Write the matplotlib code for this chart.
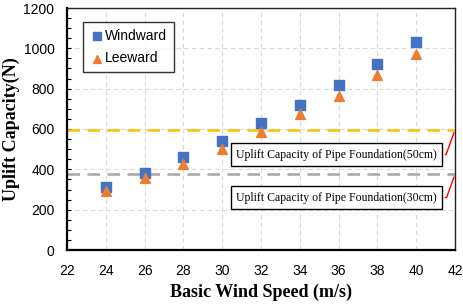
import matplotlib
matplotlib.use("Agg")
import matplotlib.pyplot as plt
from matplotlib.ticker import MultipleLocator

speeds = [24, 26, 28, 30, 32, 34, 36, 38, 40]
windward = [314, 383, 460, 540, 628, 719, 818, 920, 1030]
leeward = [291, 355, 426, 500, 587, 673, 765, 868, 972]
cap_50cm = 595
cap_30cm = 375
label_50 = "Uplift Capacity of Pipe Foundation(50cm)"
label_30 = "Uplift Capacity of Pipe Foundation(30cm)"

fig = plt.figure(figsize=(4.64, 3.05), dpi=100)
ax = fig.add_axes([67/464, 1-250/305, (455-67)/464, (250-8)/305])

ax.axhline(cap_50cm, color="#FFC000", lw=1.8, ls=(0, (5, 3)), zorder=2)
ax.axhline(cap_30cm, color="#A5A5A5", lw=1.8, ls=(0, (5, 3)), zorder=2)

ax.scatter(speeds, windward, marker="s", s=45, color="#4472C4", label="Windward", zorder=4)
ax.scatter(speeds, leeward, marker="^", s=50, color="#ED7D31", label="Leeward", zorder=4)

ax.set_xlim(22, 42)
ax.set_ylim(0, 1200)
ax.xaxis.set_major_locator(MultipleLocator(2))
ax.yaxis.set_major_locator(MultipleLocator(200))
ax.yaxis.set_minor_locator(MultipleLocator(50))
ax.grid(True, which="major", color="#D9D9D9", ls=(0, (4, 3)), lw=0.8)
ax.set_axisbelow(True)

ax.tick_params(axis="y", which="both", direction="in", length=3, width=0.8, labelsize=10, pad=9)
ax.tick_params(axis="x", which="both", length=0, labelsize=10, pad=10)
for lab in ax.get_xticklabels() + ax.get_yticklabels():
    lab.set_family("Liberation Sans")

for side in ["left", "bottom"]:
    ax.spines[side].set_linewidth(1.6)
for side in ["top", "right"]:
    ax.spines[side].set_linewidth(1.0)
    ax.spines[side].set_color("#222222")

ax.set_xlabel("Basic Wind Speed (m/s)", family="Liberation Serif", weight="bold", fontsize=13, labelpad=4)
ax.set_ylabel("Uplift Capacity(N)", family="Liberation Serif", weight="bold", fontsize=13)
ax.yaxis.set_label_coords(-0.12, 0.5)

leg = ax.legend(loc="upper left", bbox_to_anchor=(0.041, 0.942), borderaxespad=0, frameon=True,
                fancybox=False, edgecolor="black", prop={"family": "Liberation Sans", "size": 10},
                handletextpad=0.1, handlelength=1.0, borderpad=0.5, labelspacing=0.6,
                markerscale=0.8)
leg.get_frame().set_linewidth(1.0)

bbox = dict(boxstyle="square,pad=0.45", fc="white", ec="black", lw=1.0)
arrow = dict(arrowstyle="-", color="red", lw=1.0, connectionstyle="angle,angleA=0,angleB=70,rad=0")
ax.annotate(label_50, xy=(42, cap_50cm), xytext=(41.05, 473), ha="right", va="center",
            family="Liberation Serif", fontsize=8.5, bbox=bbox, arrowprops=arrow,
            annotation_clip=False, zorder=5)
ax.annotate(label_30, xy=(42, cap_30cm), xytext=(41.05, 260), ha="right", va="center",
            family="Liberation Serif", fontsize=8.5, bbox=bbox, arrowprops=arrow,
            annotation_clip=False, zorder=5)

fig.savefig("out.png", dpi=100)
